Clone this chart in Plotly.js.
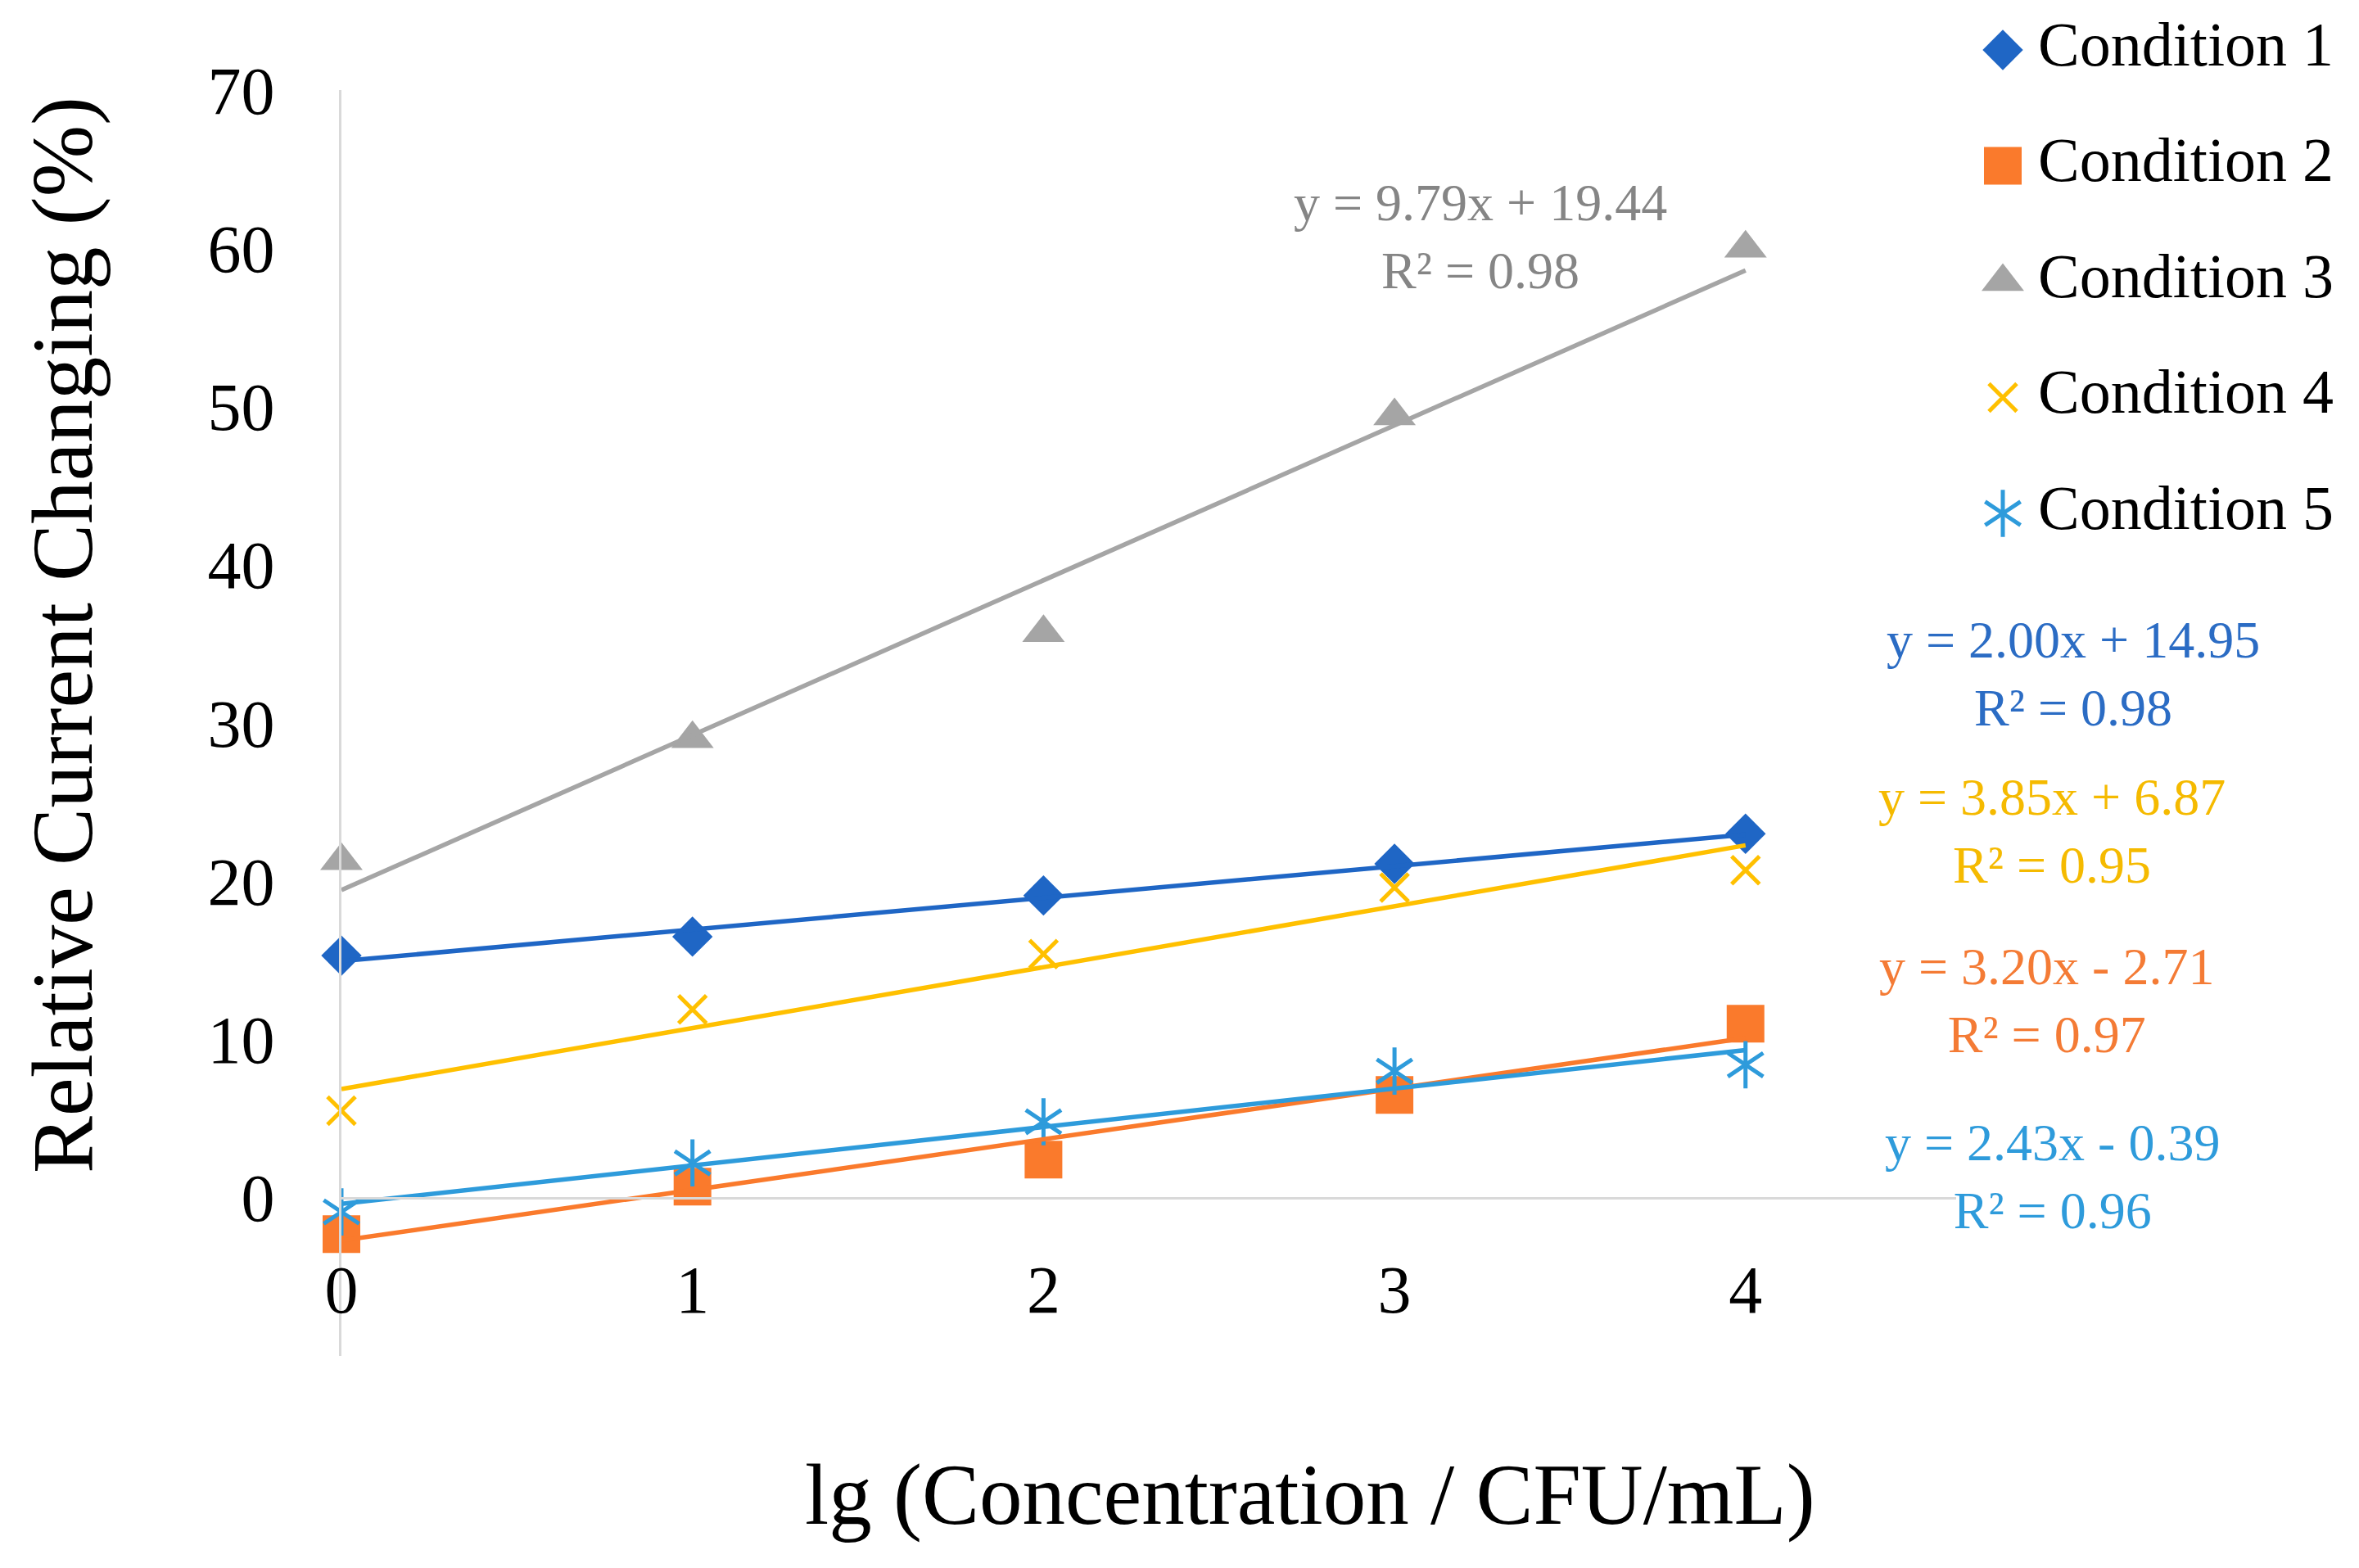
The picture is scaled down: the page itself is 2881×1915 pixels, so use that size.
<!DOCTYPE html>
<html>
<head>
<meta charset="utf-8">
<script src="https://cdn.plot.ly/plotly-3.0.1.min.js"></script>
<style>
  html, body { margin: 0; padding: 0; background: #fff; }
  #chart { width: 2881px; height: 1915px; }
</style>
</head>
<body>
<div id="chart"></div>
<script>
var W = 2881, H = 1915

// data
var xVals = [0, 1, 2, 3, 4]
var names = ['Condition 1', 'Condition 2', 'Condition 3', 'Condition 4', 'Condition 5']
var cond1 = [15.3, 16.5, 19.1, 21.1, 23.0]
var cond2 = [-2.3, 0.7, 2.4, 6.5, 11.0]
var cond3 = [21.3, 29.0, 35.7, 49.4, 60.0]
var cond4 = [5.5, 11.9, 15.4, 19.6, 20.7]
var cond5 = [-0.9, 2.2, 4.8, 8.0, 8.4]
var slopes = [2.00, 3.20, 9.79, 3.85, 2.43]
var intercepts = [14.95, -2.71, 19.44, 6.87, -0.39]
var rSquared = [0.98, 0.97, 0.98, 0.95, 0.96]
var yTicks = [0, 10, 20, 30, 40, 50, 60, 70]

var series = [cond1, cond2, cond3, cond4, cond5]
var colors = ['#1F66C5', '#FA7A2C', '#A5A5A5', '#FFC000', '#2E9BDB']
var textColors = ['#2B6CC4', '#F47B35', '#858585', '#F5BA00', '#2E9BDB']
var symbols = ['diamond', 'square', 'triangle-up', 'x-thin-open', 'y-up-open']
var sizes = [38, 46, 45, 34, 36]
var font = 'Liberation Serif, Times New Roman, serif'

// margins are zero, so paper fractions are just pixel / size
function px(x) { return x / W }
function py(y) { return 1 - y / H }

function isOpen(sym) { return sym.indexOf('open') > -1 }

function markerOf(i, sym) {
    return {
        symbol: sym, size: sizes[i], color: colors[i], opacity: 1,
        line: {width: isOpen(sym) ? 5 : 0, color: colors[i]}
    }
}

var traces = []

// points
for (var i = 0; i < series.length; i++) {
    traces.push({
        x: xVals, y: series[i], type: 'scatter', mode: 'markers',
        marker: markerOf(i, symbols[i]), cliponaxis: false, hoverinfo: 'x+y'
    })
}
// excel's star = y-up + y-down
traces.push({
    x: xVals, y: cond5, type: 'scatter', mode: 'markers',
    marker: markerOf(4, 'y-down-open'), cliponaxis: false, hoverinfo: 'skip'
})

// linear trendlines from the printed equations
for (var i = 0; i < series.length; i++) {
    var x0 = xVals[0], x1 = xVals[xVals.length - 1]
    traces.push({
        x: [x0, x1],
        y: [slopes[i] * x0 + intercepts[i], slopes[i] * x1 + intercepts[i]],
        type: 'scatter', mode: 'lines', line: {color: colors[i], width: 5.5},
        cliponaxis: false, hoverinfo: 'skip'
    })
}

// legend drawn on its own hidden axes so markers keep full size
var legIdx = [0, 1, 2, 3, 4]
var legMarkerX = 2446, legTextX = 2489
traces.push({
    x: legIdx.map(function () { return legMarkerX }), y: legIdx,
    xaxis: 'x2', yaxis: 'y2', type: 'scatter', mode: 'markers', hoverinfo: 'skip',
    marker: {
        symbol: symbols, size: sizes, color: colors, opacity: 1,
        line: {width: symbols.map(function (s) { return isOpen(s) ? 5 : 0 }), color: colors}
    }, cliponaxis: false
})
traces.push({
    x: [legMarkerX], y: [4], xaxis: 'x2', yaxis: 'y2', type: 'scatter', mode: 'markers',
    marker: markerOf(4, 'y-down-open'), hoverinfo: 'skip', cliponaxis: false
})
traces.push({
    x: legIdx.map(function () { return legTextX }), y: legIdx, text: names,
    xaxis: 'x2', yaxis: 'y2', type: 'scatter', mode: 'text', textposition: 'middle right',
    textfont: {family: font, size: 76, color: '#000'}, hoverinfo: 'skip', cliponaxis: false
})

// equation labels
var eqPos = [[2532, 823], [2499, 1222], [1808, 289], [2506, 1015], [2506, 1437]]
var annotations = []
for (var i = 0; i < series.length; i++) {
    var b = intercepts[i]
    var txt = 'y = ' + slopes[i].toFixed(2) + 'x ' + (b < 0 ? '- ' : '+ ') + Math.abs(b).toFixed(2) +
        '<br>R² = ' + rSquared[i].toFixed(2)
    annotations.push({
        text: txt, xref: 'paper', yref: 'paper', x: px(eqPos[i][0]), y: py(eqPos[i][1]),
        xanchor: 'center', yanchor: 'middle', align: 'center', showarrow: false,
        font: {family: font, size: 64, color: textColors[i]}
    })
}
// axis titles
annotations.push({
    text: 'lg (Concentration / CFU/mL)', xref: 'paper', yref: 'paper',
    x: px(1600), y: py(1825), xanchor: 'center', yanchor: 'middle', showarrow: false,
    font: {family: font, size: 105, color: '#000'}
})
annotations.push({
    text: 'Relative Current Changing (%)', xref: 'paper', yref: 'paper', textangle: -90,
    x: px(77), y: py(776), xanchor: 'center', yanchor: 'middle', showarrow: false,
    font: {family: font, size: 105, color: '#000'}
})

var axisGray = '#D9D9D9'
var layout = {
    width: W, height: H,
    margin: {l: 0, r: 0, t: 0, b: 0},
    showlegend: false,
    paper_bgcolor: '#fff', plot_bgcolor: 'rgba(0,0,0,0)',
    xaxis: {
        domain: [px(417), px(2389)], range: [0, 4.6],
        anchor: 'free', position: py(1463),
        tickvals: xVals, ticks: 'outside', ticklen: 40, tickcolor: 'rgba(0,0,0,0)',
        tickfont: {family: font, size: 82, color: '#000'},
        showline: true, linecolor: axisGray, linewidth: 3,
        showgrid: false, zeroline: false, fixedrange: true
    },
    yaxis: {
        domain: [py(1656), py(110)], range: [-10, 70],
        tickvals: yTicks, ticks: 'outside', ticklen: 62, tickcolor: 'rgba(0,0,0,0)',
        tickfont: {family: font, size: 82, color: '#000'},
        showline: true, linecolor: axisGray, linewidth: 3,
        showgrid: false, zeroline: false, fixedrange: true
    },
    xaxis2: {domain: [px(2400), 1], range: [2400, 2881], visible: false, fixedrange: true},
    yaxis2: {domain: [py(700), 1], range: [4.516, -0.431], anchor: 'x2', visible: false, fixedrange: true},
    annotations: annotations
}

Plotly.newPlot('chart', traces, layout, {displayModeBar: false, staticPlot: true})
</script>
</body>
</html>
